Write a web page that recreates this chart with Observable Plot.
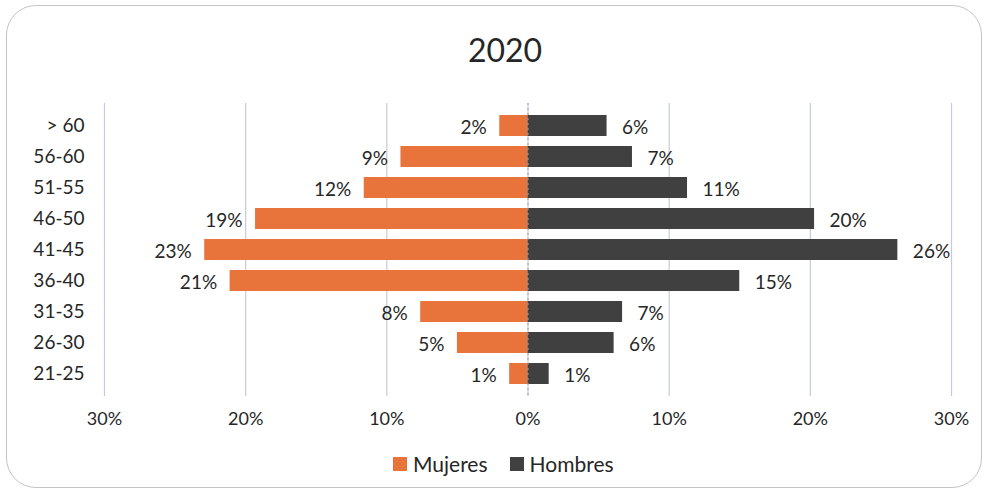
<!DOCTYPE html>
<html>
<head>
<meta charset="utf-8">
<script src="https://cdn.jsdelivr.net/npm/d3@7"></script>
<script src="https://cdn.jsdelivr.net/npm/@observablehq/plot@0.6"></script>
<style>
  html, body { margin: 0; padding: 0; background: #fff; }
  body { width: 990px; height: 490px; position: relative; overflow: hidden; font-family: Lato, "Open Sans", sans-serif; }
  #frame { position: absolute; left: 6px; top: 5px; width: 976px; height: 483px; border: 1.5px solid #c4c4c4; border-radius: 30px; box-sizing: border-box; }
  #title { position: absolute; left: 0; width: 1010px; top: 30px; text-align: center; font-size: 32px; color: #262626; }
  #chart { position: absolute; left: 0; top: 0; }
  #legend { position: absolute; top: 451px; left: 393px; font-size: 21px; color: #262626; display: flex; align-items: center; white-space: nowrap; }
  .sw { display: inline-block; width: 14px; height: 14px; margin-right: 6px; }
</style>
</head>
<body>
<div id="frame"></div>
<div id="chart"></div>
<div id="title">2020</div>
<div id="legend"><span class="sw" style="background:#E8743B"></span>Mujeres<span class="sw" style="background:#404040;margin-left:22px"></span>Hombres</div>
<script>
const ageGroups = ["> 60", "56-60", "51-55", "46-50", "41-45", "36-40", "31-35", "26-30", "21-25"];
const mujeres = [2.0, 9.0, 11.6, 19.3, 22.9, 21.1, 7.6, 5.0, 1.3];
const hombres = [5.6, 7.4, 11.3, 20.3, 26.2, 15.0, 6.7, 6.1, 1.5];
const mujeresLabels = ["2%", "9%", "12%", "19%", "23%", "21%", "8%", "5%", "1%"];
const hombresLabels = ["6%", "7%", "11%", "20%", "26%", "15%", "7%", "6%", "1%"];
const xTicks = [-30, -20, -10, 0, 10, 20, 30];

const rows = ageGroups.flatMap((g, i) => [
  {group: g, sexo: "Mujeres", value: -mujeres[i], label: mujeresLabels[i]},
  {group: g, sexo: "Hombres", value: hombres[i], label: hombresLabels[i]}
]);

const chart = Plot.plot({
  width: 990,
  height: 440,
  marginLeft: 104,
  marginRight: 39,
  marginTop: 103,
  marginBottom: 44,
  style: {fontFamily: "Lato, 'Open Sans', sans-serif", fontSize: "19px", color: "#262626", background: "transparent"},
  x: {domain: [-30, 30], ticks: xTicks, tickFormat: d => Math.abs(d) + "%", label: null, tickSize: 0, tickPadding: 16},
  y: {domain: ageGroups, padding: 0.33, label: null, tickSize: 0, tickPadding: 20},
  color: {domain: ["Mujeres", "Hombres"], range: ["#E8743B", "#404040"]},
  marks: [
    Plot.ruleX(xTicks, {stroke: "#c5ccd6", strokeWidth: 1.2}),
    Plot.barX(rows, {x: "value", y: "group", fill: "sexo"}),
    Plot.ruleX([0], {stroke: "#9aa0a8", strokeWidth: 1, strokeDasharray: "2,3"}),
    Plot.text(rows.filter(d => d.sexo === "Mujeres"), {x: "value", y: "group", text: "label", textAnchor: "end", dx: -13, dy: 2, fill: "#262626", fontSize: 19}),
    Plot.text(rows.filter(d => d.sexo === "Hombres"), {x: "value", y: "group", text: "label", textAnchor: "start", dx: 15, dy: 2, fill: "#262626", fontSize: 19}),
    Plot.axisX({ticks: xTicks, tickFormat: d => Math.abs(d) + "%", tickSize: 0, tickPadding: 16, fontSize: 18, label: null}),
    Plot.axisY({tickSize: 0, tickPadding: 20, fontSize: 19, label: null})
  ]
});
document.getElementById("chart").appendChild(chart);
</script>
</body>
</html>
